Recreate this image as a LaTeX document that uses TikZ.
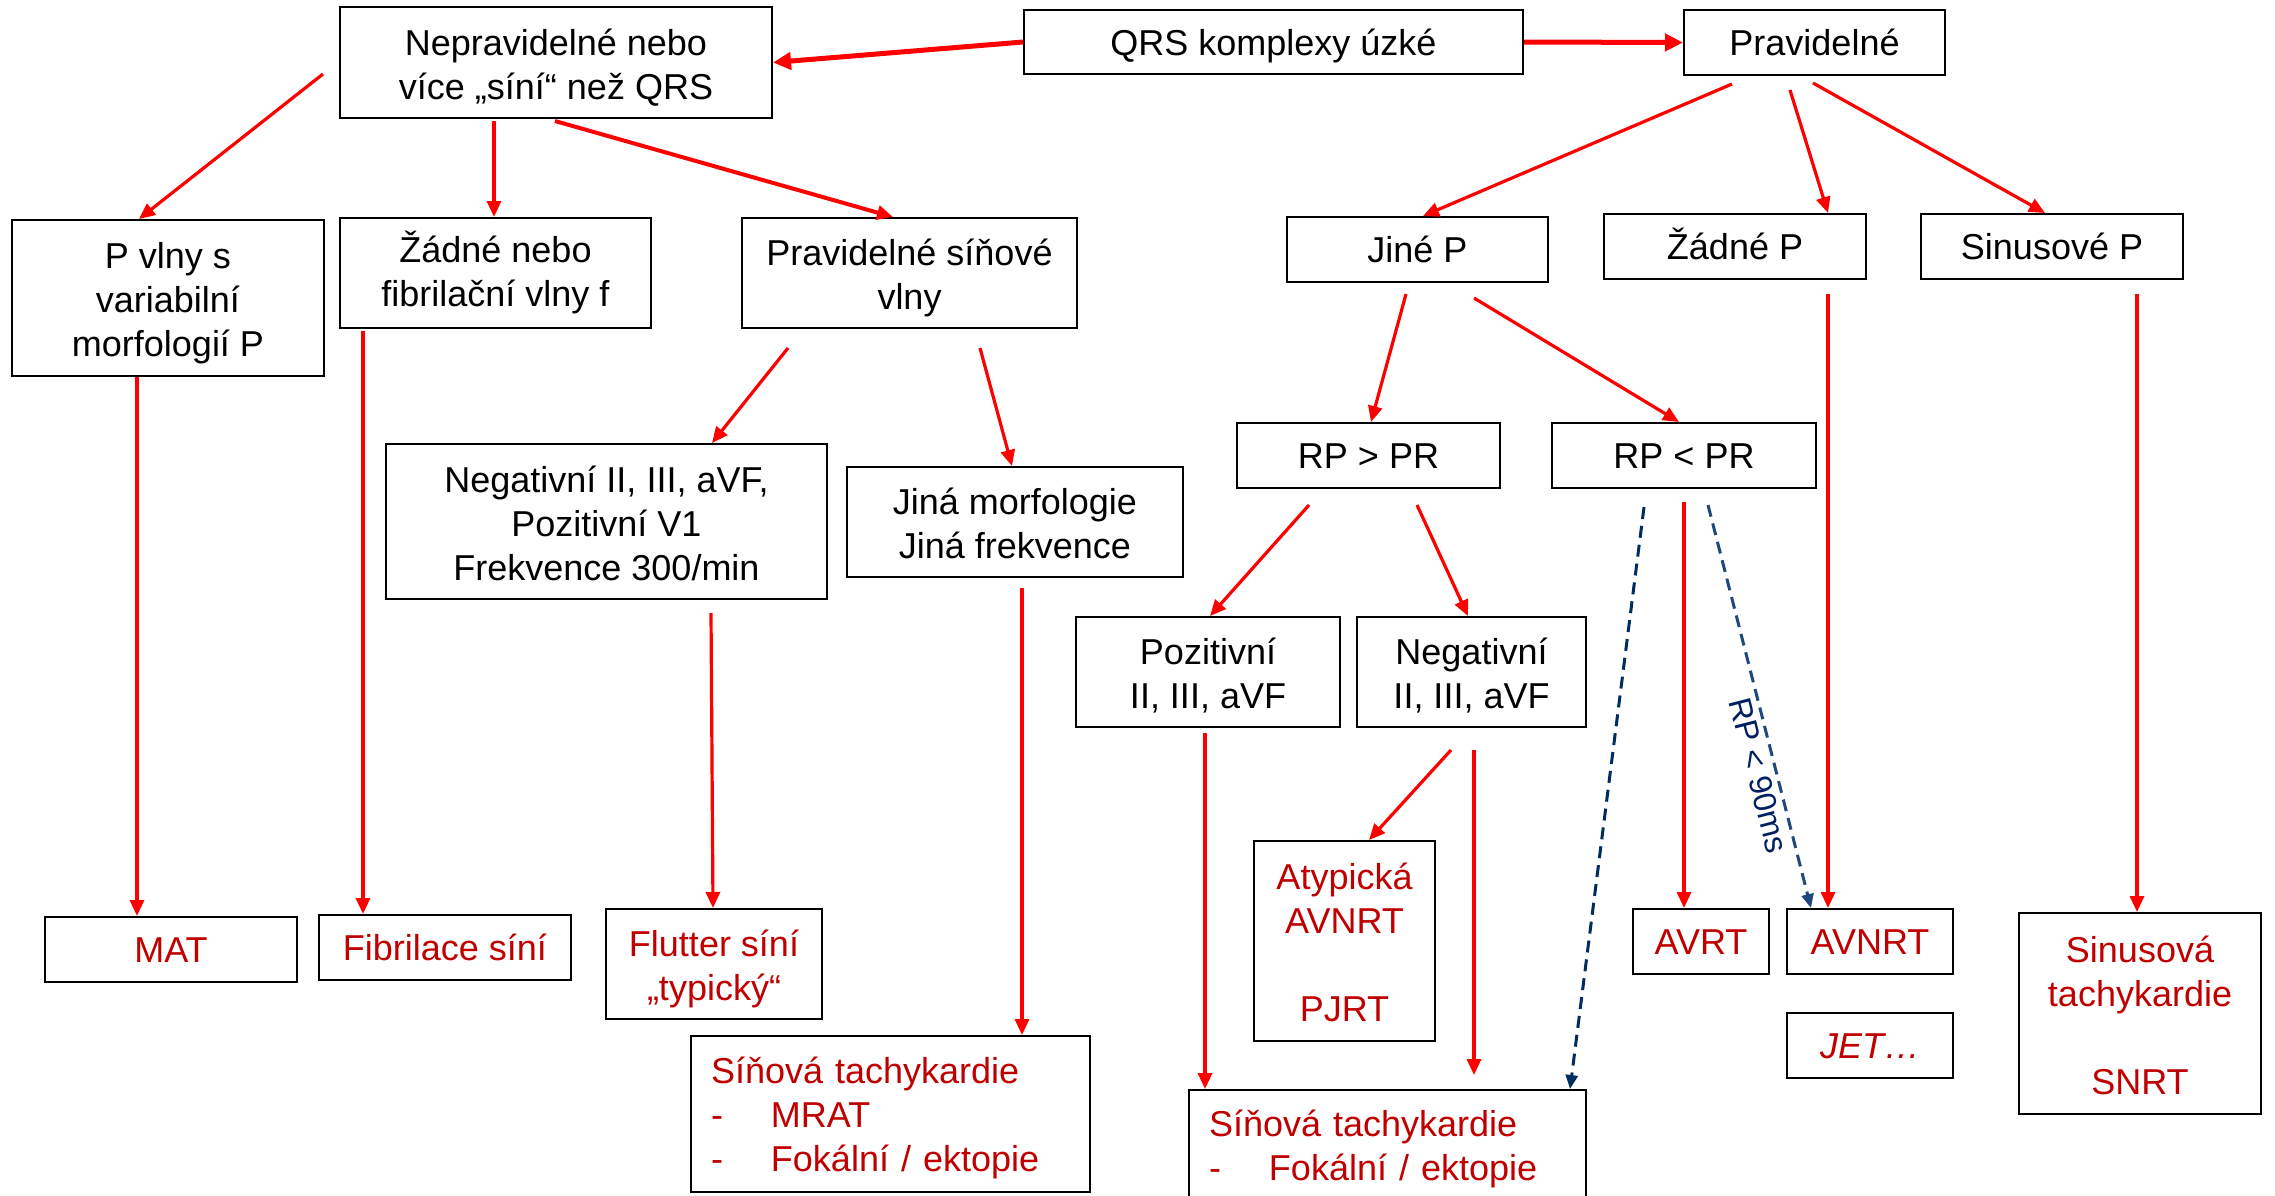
\documentclass[tikz,border=0pt]{standalone}
\usepackage{fontspec}
\setmainfont{Liberation Sans}
\usetikzlibrary{arrows.meta,calc}
\definecolor{arrred}{RGB}{255,0,0}
\definecolor{outred}{RGB}{192,0,0}
\definecolor{navyA}{RGB}{0,45,95}
\definecolor{navyB}{RGB}{31,73,125}
\definecolor{navyT}{RGB}{0,32,96}
\newcommand\boxstrut{\rule[-9pt]{0pt}{44pt}}
\newcommand\topstrut{\rule{0pt}{38pt}}
\newcommand\botstrut{\rule[-9pt]{0pt}{9pt}}
\begin{document}
\begin{tikzpicture}[x=1pt,y=-1pt,
  box/.style={draw=black, line width=2pt, inner sep=0pt, align=center,
    font=\fontsize{36}{44}\selectfont, text=black,
    execute at begin node=\boxstrut, execute at end node=\boxstrut},
  outbox/.style={box, text=outred},
  listbox/.style={outbox, align=left, inner xsep=20pt},
  arr/.style={draw=arrred, line width=3.2pt, -{Triangle[length=16pt,width=14pt]}},
  arrthick/.style={arr, line width=5pt, -{Triangle[length=18pt,width=17pt]}},
  dashA/.style={draw=navyA, line width=3pt, dash pattern=on 12pt off 7pt, -{Triangle[length=14pt,width=12pt]}},
  dashB/.style={dashA, draw=navyB},
  lbl/.style={font=\fontsize{32}{38}\selectfont, text=navyT, inner sep=5pt}
]
\useasboundingbox (0,0) rectangle (2275,1195);
\clip (0,0) rectangle (2275,1195);

% --- nodes
\node[box, minimum width=499pt, minimum height=64pt] (qrs) at (1273.5,42) {QRS komplexy úzké};
\node[box, minimum width=261pt, minimum height=65pt] (prav) at (1814.5,42.5) {Pravidelné};
\node[box, minimum width=432pt, minimum height=111pt] (nepr) at (556,62.5) {\topstrut Nepravidelné nebo\\více „síní“ než QRS\botstrut};
\node[box, minimum width=312pt, minimum height=156pt] (pvlny) at (168,298) {\topstrut P vlny s\\variabilní\\morfologií P\botstrut};
\node[box, minimum width=311pt, minimum height=110pt] (zadne) at (495.5,273) {Žádné nebo\\fibrilační vlny f\botstrut};
\node[box, minimum width=335pt, minimum height=110pt] (pravsin) at (909.5,273) {\topstrut Pravidelné síňové\\vlny\botstrut};
\node[box, minimum width=261pt, minimum height=65pt] (jine) at (1417.5,249.5) {Jiné P};
\node[box, minimum width=262pt, minimum height=65pt] (zadnep) at (1735,246.5) {Žádné P};
\node[box, minimum width=262pt, minimum height=65pt] (sinp) at (2052,246.5) {Sinusové P};
\node[box, minimum width=441pt, minimum height=155pt] (negv1) at (606.5,521.5) {\topstrut Negativní II, III, aVF,\\Pozitivní V1\\Frekvence 300/min\botstrut};
\node[box, minimum width=336pt, minimum height=110pt] (jinamorf) at (1015,522) {\topstrut Jiná morfologie\\Jiná frekvence\botstrut};
\node[box, minimum width=263pt, minimum height=65pt] (rpgt) at (1368.5,455.5) {RP > PR};
\node[box, minimum width=264pt, minimum height=65pt] (rplt) at (1684,455.5) {RP < PR};
\node[box, minimum width=264pt, minimum height=110pt] (poz) at (1208,672) {\topstrut Pozitivní\\II, III, aVF\botstrut};
\node[box, minimum width=229pt, minimum height=110pt] (neg) at (1471.5,672) {\topstrut Negativní\\II, III, aVF\botstrut};

\node[outbox, minimum width=252pt, minimum height=65pt] (mat) at (171,949.5) {MAT};
\node[outbox, minimum width=252pt, minimum height=65pt] (fib) at (445,947.5) {Fibrilace síní};
\node[outbox, minimum width=216pt, minimum height=110pt] (flut) at (714,964) {\topstrut Flutter síní\\„typický“\botstrut};
\node[listbox, minimum width=399pt, text width=359pt, minimum height=156pt] (sin1) at (890.5,1114)
  {Síňová tachykardie\\\makebox[60pt][l]{-}MRAT\\\makebox[60pt][l]{-}Fokální / ektopie};
\node[outbox, minimum width=181pt, minimum height=200pt] (atyp) at (1344.5,941) {\topstrut Atypická\\AVNRT\\[44pt]PJRT\botstrut};
\node[listbox, minimum width=397pt, text width=357pt, minimum height=111pt] (sin2) at (1387.5,1145.5)
  {Síňová tachykardie\\\makebox[60pt][l]{-}Fokální / ektopie};
\node[outbox, minimum width=136pt, minimum height=65pt] (avrt) at (1701,941.5) {AVRT};
\node[outbox, minimum width=166pt, minimum height=65pt] (avnrt) at (1870,941.5) {AVNRT};
\node[outbox, minimum width=166pt, minimum height=65pt] (jet) at (1870,1045.5) {\itshape JET…};
\node[outbox, minimum width=242pt, minimum height=201pt] (sinus) at (2140,1013.5) {\topstrut Sinusová\\tachykardie\\[44pt]SNRT\botstrut};

% --- connectors
\draw[arrthick] (qrs.west) -- (nepr.east);
\draw[arrthick] (qrs.east) -- (prav.west);

\draw[arr] ($(nepr.north west)+(-16,68)$) -- ($(pvlny.north west)+(128,0)$);
\draw[arr] ($(nepr.south west)+(155,2)$) -- ($(zadne.north west)+(155,0)$);
\draw[arr, line width=4pt] ($(nepr.south west)+(216,2)$) -- ($(pravsin.north west)+(152,0)$);
\draw[arr] ($(pvlny.south west)+(126,0)$) -- ($(mat.north west)+(93,0)$);
\draw[arr] ($(zadne.south west)+(24,2)$) -- ($(fib.north west)+(45,0)$);
\draw[arr] ($(pravsin.south west)+(47,19)$) -- ($(negv1.north west)+(327,0)$);
\draw[arr] ($(pravsin.south west)+(239,19)$) -- ($(jinamorf.north west)+(166,0)$);
\draw[arr] ($(negv1.south west)+(326,13)$) -- ($(flut.north west)+(108,0)$);
\draw[arr] ($(jinamorf.south west)+(176,10)$) -- ($(sin1.north west)+(332,0)$);

\draw[arr] ($(prav.south west)+(49,8)$) -- ($(jine.north west)+(137,0)$);
\draw[arr] ($(prav.south west)+(107,14)$) -- ($(zadnep.north west)+(225,0)$);
\draw[arr] ($(prav.south west)+(130,7)$) -- ($(sinp.north west)+(125,0)$);
\draw[arr] ($(jine.south west)+(120,11)$) -- ($(rpgt.north west)+(135,0)$);
\draw[arr] ($(jine.south west)+(188,15)$) -- ($(rplt.north west)+(128,0)$);
\draw[arr] ($(zadnep.south west)+(225,14)$) -- ($(avnrt.north west)+(42,0)$);
\draw[arr] ($(sinp.south west)+(217,14)$) -- ($(sinus.north west)+(119,0)$);
\draw[arr] ($(rpgt.south west)+(73,16)$) -- ($(poz.north west)+(135,0)$);
\draw[arr] ($(rpgt.south west)+(181,16)$) -- ($(neg.north west)+(112,0)$);
\draw[dashA] ($(rplt.south west)+(93,18)$) -- ($(sin2.north west)+(382,0)$);
\draw[arr] ($(rplt.south west)+(133,13)$) -- ($(avrt.north west)+(52,0)$);
\draw[dashB] ($(rplt.south west)+(157,16)$) -- ($(avnrt.north west)+(25,0)$)
  node[lbl, pos=0.66, sloped, anchor=north] (lab) {RP < 90ms};
\draw[arr] ($(poz.south west)+(130,5)$) -- ($(sin2.north west)+(17,0)$);
\draw[arr] ($(neg.south west)+(95,22)$) -- ($(atyp.north west)+(116,0)$);
\draw[arr] ($(neg.south west)+(118,22)$) -- ($(sin2.north west)+(286,-14)$);
\end{tikzpicture}
\end{document}
